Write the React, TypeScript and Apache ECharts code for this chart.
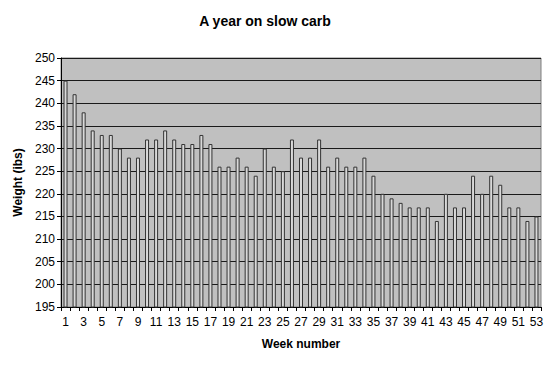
import React, { useEffect, useRef } from "react";
import * as echarts from "echarts";

const weeks: string[] = Array.from({ length: 53 }, (_, i) => String(i + 1));
const weights: number[] = [
  245, 242, 238, 234, 233, 233, 230, 228, 228, 232,
  232, 234, 232, 231, 231, 233, 231, 226, 226, 228,
  226, 224, 230, 226, 225, 232, 228, 228, 232, 226,
  228, 226, 226, 228, 224, 220, 219, 218, 217, 217,
  217, 214, 220, 217, 217, 224, 220, 224, 222, 217,
  217, 214, 215,
];

export default function App() {
  const ref = useRef<HTMLDivElement>(null);
  useEffect(() => {
    if (!ref.current) return;
    const chart = echarts.init(ref.current, null, { renderer: "svg" });
    chart.setOption({
      animation: false,
      backgroundColor: "#ffffff",
      title: {
        text: "A year on slow carb",
        left: 260,
        top: 9,
        textAlign: "center",
        textStyle: { fontFamily: "Arial, Liberation Sans", fontSize: 14, fontWeight: "bold", color: "#000" },
      },
      grid: {
        left: 61,
        right: 9,
        top: 58,
        bottom: 61,
        show: true,
        backgroundColor: "#c0c0c0",
        borderColor: "#808080",
        borderWidth: 1,
      },
      xAxis: {
        type: "category",
        data: weeks,
        name: "Week number",
        nameLocation: "middle",
        nameGap: 31,
        nameTextStyle: { fontFamily: "Arial, Liberation Sans", fontSize: 12, fontWeight: "bold", color: "#000" },
        axisLine: { lineStyle: { color: "#000", width: 1 } },
        axisTick: { show: true, interval: 0, alignWithLabel: false, length: 4, lineStyle: { color: "#000" } },
        axisLabel: { interval: 1, fontFamily: "Arial, Liberation Sans", fontSize: 12, color: "#000", margin: 9 },
        splitLine: { show: false },
      },
      yAxis: {
        type: "value",
        min: 195,
        max: 250,
        interval: 5,
        name: "Weight (ibs)",
        nameLocation: "middle",
        nameGap: 36,
        nameRotate: 90,
        nameTextStyle: { fontFamily: "Arial, Liberation Sans", fontSize: 12, fontWeight: "bold", color: "#000" },
        axisLine: { show: true, lineStyle: { color: "#000", width: 1 } },
        axisTick: { show: true, length: 4, lineStyle: { color: "#000" } },
        axisLabel: { fontFamily: "Arial, Liberation Sans", fontSize: 12, color: "#000", margin: 6 },
        splitLine: { show: true, lineStyle: { color: "#1a1a1a", width: 1 } },
      },
      series: [
        {
          type: "bar",
          data: weights,
          barWidth: 4,
          itemStyle: { color: "#d9d9d9", borderColor: "#333333", borderWidth: 1 },
        },
      ],
    });
    return () => chart.dispose();
  }, []);
  return (
    <div
      ref={ref}
      style={{ position: "fixed", left: 0, top: 0, width: 550, height: 368 }}
    />
  );
}
